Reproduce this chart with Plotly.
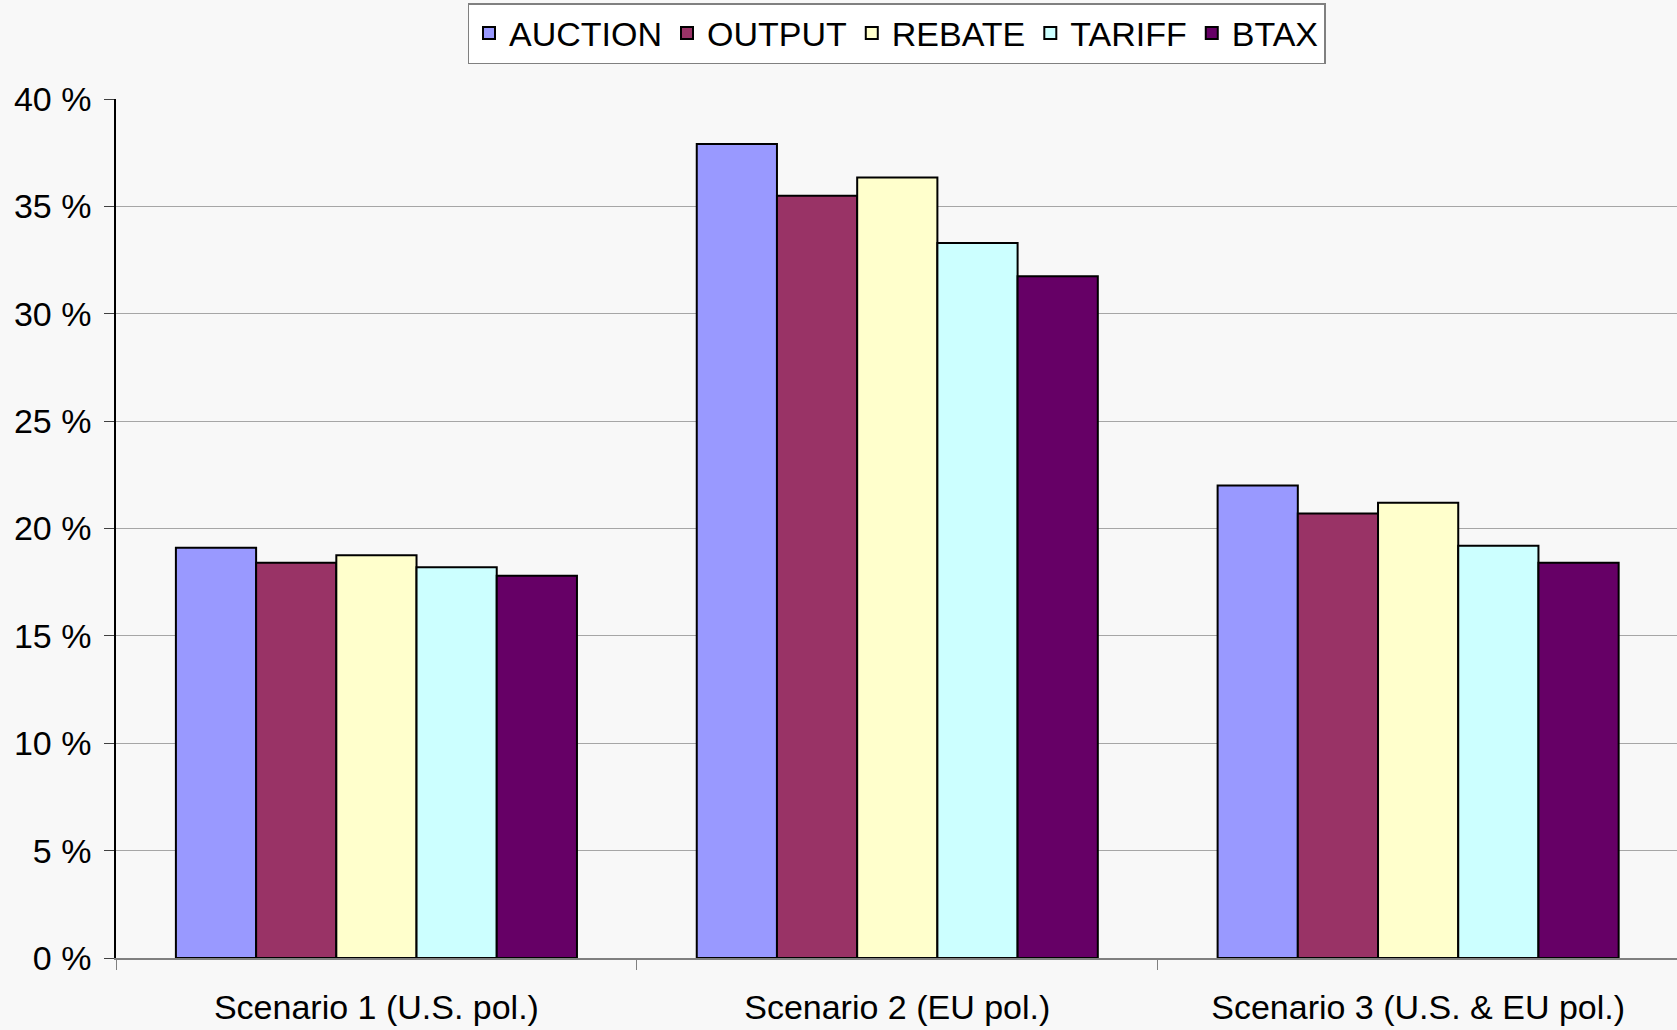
import plotly.graph_objects as go

categories = ["Scenario 1 (U.S. pol.)", "Scenario 2 (EU pol.)", "Scenario 3 (U.S. & EU pol.)"]
auction = [19.1, 37.9, 22.0]
output = [18.4, 35.5, 20.7]
rebate = [18.75, 36.35, 21.2]
tariff = [18.2, 33.3, 19.2]
btax = [17.8, 31.75, 18.4]

series = [
    ("AUCTION", auction, "#9999FF"),
    ("OUTPUT", output, "#993366"),
    ("REBATE", rebate, "#FFFFCC"),
    ("TARIFF", tariff, "#CCFFFF"),
    ("BTAX", btax, "#660066"),
]

FONT = "Liberation Sans, Arial, sans-serif"
BG = "#f8f8f8"

fig = go.Figure()
for name, vals, col in series:
    fig.add_trace(go.Bar(
        name=name, x=categories, y=vals,
        marker=dict(color=col, line=dict(color="#000000", width=2)),
    ))

W, H = 1677, 1030
left, top, bottom = 116, 99, 72
plot_h = H - top - bottom

fig.update_layout(
    width=W, height=H,
    margin=dict(l=left, r=0, t=top, b=bottom, pad=0),
    paper_bgcolor=BG, plot_bgcolor=BG,
    barmode="group", bargap=0.23, bargroupgap=0,
    font=dict(family=FONT, size=34, color="#000000"),
    showlegend=True,
    legend=dict(
        orientation="h", x=0.5, xanchor="center",
        y=1 + (top - 3) / plot_h, yanchor="top",
        bgcolor="#ffffff", bordercolor="#808080", borderwidth=1.5,
        font=dict(family=FONT, size=34, color="#000000"),
        itemwidth=30, tracegroupgap=0,
    ),
    xaxis=dict(
        showgrid=False, showline=True, linecolor="#808080", linewidth=1.5,
        ticks="outside", tickson="boundaries", ticklen=10, tickcolor="#808080",
        tickfont=dict(family=FONT, size=34),
        ticklabelstandoff=18,
        range=[-0.5, 2.497], fixedrange=True,
    ),
    yaxis=dict(
        range=[0, 40], dtick=5, ticksuffix=" %",
        showgrid=True, gridcolor="#a6a6a6", gridwidth=1.3,
        showline=True, linecolor="#000000", linewidth=1.5,
        ticks="outside", ticklen=10, tickcolor="#404040",
        tickfont=dict(family=FONT, size=34),
        ticklabelstandoff=6,
        zeroline=False,
    ),
)

fig.write_html(
    "out.html",
    config={"displayModeBar": False},
    post_script="document.body.style.margin='0';document.body.style.overflow='hidden';",
)
